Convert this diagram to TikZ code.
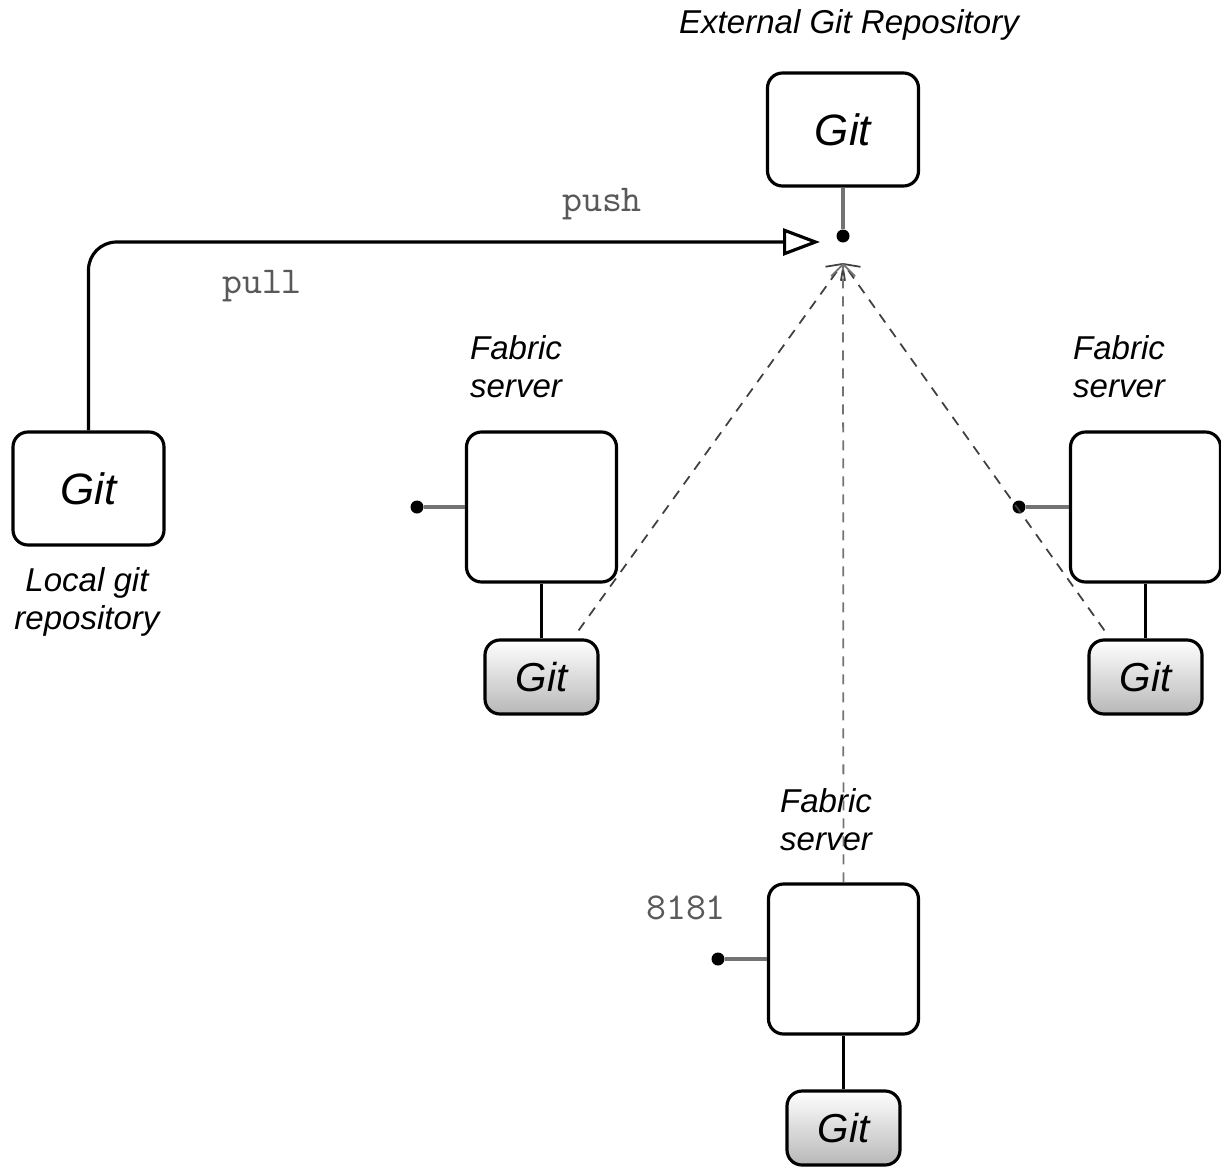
\documentclass[tikz,border=0pt]{standalone}
\usepackage{fontspec}
\setmainfont{Liberation Sans}
\usetikzlibrary{positioning,arrows.meta,shadings}

\begin{document}
\begin{tikzpicture}[round/.style={rounded corners=1.5mm,draw,line width=0.9pt,minimum width=1.51cm,minimum height=1.13cm,font=\itshape\fontsize{12.5}{15}\selectfont},
	server/.style={round,minimum width=1.5cm,minimum height=1.5cm},
	repo/.style={round,minimum width=1.13cm,minimum height=0.74cm,top color=white,bottom color=black!28,font=\itshape\fontsize{11.5}{13}\selectfont},
	port/.style={circle,fill=black,inner sep=0pt,minimum size=0.13cm},
	caption/.style={font=\itshape\fontsize{9.4}{10.8}\selectfont,align=center},
	cmd/.style={font=\ttfamily\fontsize{10.8}{12}\selectfont,text=black!65},
	stub/.style={draw=black!55,line width=1pt},
	link/.style={line width=0.9pt},
	sync/.style={line width=0.5pt,dash pattern=on 0.1cm off 0.08cm,-{Straight Barb[length=0.12cm,width=0.24cm]}}]

	\useasboundingbox (0,0) rectangle (12.21,-11.66);

	% external repository
	\node[round] (ext) at (8.43,-1.295) {Git};
	\node[caption] (extlabel) at (8.49,-0.25) {External Git Repository};
	\node[port] (extdot) [below of=ext, node distance=1.065cm] {};
	\path[stub] (ext) -- (extdot);
	\coordinate (pushend) at (8.20,-2.42);
	\coordinate (pullend) at (8.43,-2.63);

	% local repository
	\node[round] (local) at (0.885,-4.885) {Git};
	\node[caption] (locallabel) at (0.87,-6.02) {Local git\\repository};
	\draw[link,rounded corners=2.8mm,-{Triangle[open,length=0.37cm,width=0.27cm]}] (local) |- (pushend);
	\node[cmd] (push) at (6.02,-2.04) {push};
	\node[cmd] (pull) at (2.62,-2.86) {pull};

	% fabric servers
	\node[server] (srvA) at (5.415,-5.07) {};
	\node[caption] (labelA) at (5.16,-3.67) {Fabric\\server};
	\node[port] (dotA) [left of=srvA, node distance=1.245cm] {};
	\path[stub] (dotA) -- (srvA);
	\node[repo] (gitA) [below of=srvA, node distance=1.7cm] {Git};
	\path[link,draw] (srvA) -- (gitA);

	\node[server] (srvB) at (11.455,-5.07) {};
	\node[caption] (labelB) at (11.19,-3.67) {Fabric\\server};
	\node[port] (dotB) [left of=srvB, node distance=1.265cm] {};
	\path[stub] (dotB) -- (srvB);
	\node[repo] (gitB) [below of=srvB, node distance=1.7cm] {Git};
	\path[link,draw] (srvB) -- (gitB);

	\node[server] (srvC) at (8.435,-9.59) {};
	\node[caption] (labelC) at (8.26,-8.2) {Fabric\\server};
	\node[port] (dotC) [left of=srvC, node distance=1.255cm] {};
	\path[stub] (dotC) -- (srvC);
	\node[cmd] (port) at (6.86,-9.08) {8181};
	\node[repo] (gitC) [below of=srvC, node distance=1.69cm] {Git};
	\path[link,draw] (srvC) -- (gitC);

	% pulls from the external repository
	\draw[sync,black!75] ([shift={(-0.21,0.08)}]gitA.north east) -- (pullend);
	\draw[sync,black!75] ([shift={(0.17,0.08)}]gitB.north west) -- (pullend);
	\draw[sync,black!55] (srvC) -- (pullend);

\end{tikzpicture}
\end{document}
